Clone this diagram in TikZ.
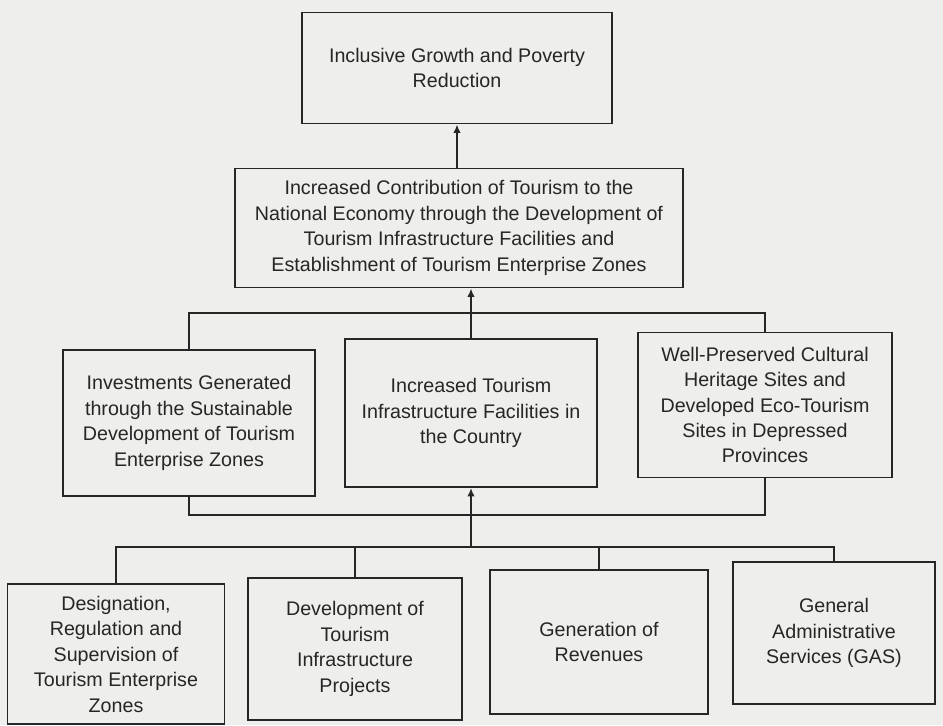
\documentclass[tikz,border=0pt]{standalone}
\usepackage{xcolor}
\usepackage{fontspec}
\setmainfont{Liberation Sans}
\usepackage{tikz}
\usetikzlibrary{arrows.meta,positioning}
\definecolor{paper}{HTML}{EEEEEC}
\definecolor{ink}{HTML}{262626}

\begin{document}
\begin{tikzpicture}[x=0.02cm, y=-0.02cm,
    box/.style={draw=ink, line width=1.1pt, align=center, text=ink, inner sep=2pt,
        font=\fontsize{11.2}{14.5}\selectfont},
    link/.style={draw=ink, line width=1.1pt},
    arr/.style={link, -{Latex[length=1.7mm, width=1.5mm]}}]
            \fill[paper] (0,0) rectangle (943,725);
            \useasboundingbox (0,0) rectangle (943,725);

            \node[box, minimum width=6.2cm, minimum height=2.22cm] (goal) at (457,68) {Inclusive Growth and Poverty\\Reduction};
            \node[box, minimum width=8.96cm, minimum height=2.38cm] (outcome) at (459,228) {Increased Contribution of Tourism to the\\National Economy through the Development of\\Tourism Infrastructure Facilities and\\Establishment of Tourism Enterprise Zones};

            \node[box, minimum width=5.04cm, minimum height=2.92cm] (mid1) at (189,423) {Investments Generated\\through the Sustainable\\Development of Tourism\\Enterprise Zones};
            \node[box, minimum width=5.04cm, minimum height=2.96cm] (mid2) at (471,413) {Increased Tourism\\Infrastructure Facilities in\\the Country};
            \node[box, minimum width=5.08cm, minimum height=2.9cm] (mid3) at (765,405) {Well-Preserved Cultural\\Heritage Sites and\\Developed Eco-Tourism\\Sites in Depressed\\Provinces};

            \node[box, minimum width=4.34cm, minimum height=2.8cm] (prog1) at (116,654) {Designation,\\Regulation and\\Supervision of\\Tourism Enterprise\\Zones};
            \node[box, minimum width=4.28cm, minimum height=2.84cm] (prog2) at (355,649) {Development of\\Tourism\\Infrastructure\\Projects};
            \node[box, minimum width=4.36cm, minimum height=2.88cm] (prog3) at (599,642) {Generation of\\Revenues};
            \node[box, minimum width=4.04cm, minimum height=2.84cm] (prog4) at (834,633) {General\\Administrative\\Services (GAS)};

            \coordinate (upbus) at (0,313);
            \coordinate (lowbus) at (0,515);
            \coordinate (progbus) at (0,547);

            \draw[arr] (outcome.north -| goal.south) -- (goal.south);
            \draw[arr] (mid2.north) -- (mid2.north |- outcome.south);
            \draw[link] (mid1.north) -- (mid1.north |- upbus) -- (mid3.north |- upbus) -- (mid3.north);
            \draw[link] (mid1.south) -- (mid1.south |- lowbus) -- (mid3.south |- lowbus) -- (mid3.south);
            \draw[arr] (mid2.south |- progbus) -- (mid2.south);
            \draw[link] (prog1.north) -- (prog1.north |- progbus) -- (prog4.north |- progbus) -- (prog4.north);
            \draw[link] (prog2.north) -- (prog2.north |- progbus);
            \draw[link] (prog3.north) -- (prog3.north |- progbus);
        \end{tikzpicture}
\end{document}
